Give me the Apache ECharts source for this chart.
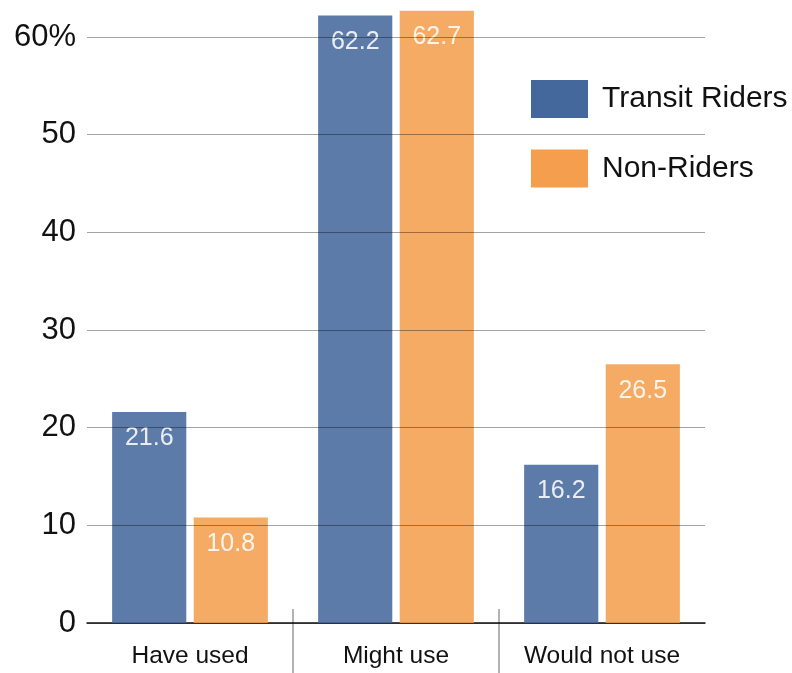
<!DOCTYPE html>
<html>
<head>
<meta charset="utf-8">
<script src="https://cdn.jsdelivr.net/npm/echarts@6/dist/echarts.min.js"></script>
<style>
  html, body { margin: 0; padding: 0; background: #fff; }
  #chart { width: 792px; height: 673px; }
</style>
</head>
<body>
<div id="chart"></div>
<script>
// Survey answers by group (percent of respondents)
const categories = ['Have used', 'Might use', 'Would not use'];
const transitRiders = [21.6, 62.2, 16.2];
const nonRiders = [10.8, 62.7, 26.5];
const seriesNames = ['Transit Riders', 'Non-Riders'];
const yTicks = [0, 10, 20, 30, 40, 50, 60];

const BLUE = '#44679c';
const ORANGE = '#f59f4e';
const FONT = '"Liberation Sans", Arial, sans-serif';

const chart = echarts.init(document.getElementById('chart'));

// separators between categories (positions in category units), not at the edges
const separatorAxis = (inside, length) => ({
  type: 'value',
  min: 0,
  max: categories.length,
  position: 'bottom',
  axisLine: { show: false },
  splitLine: { show: false },
  axisLabel: { show: false },
  axisTick: {
    show: true,
    inside: inside,
    length: length,
    customValues: categories.slice(1).map((_, i) => i + 1),
    lineStyle: { color: '#9a9a9a', width: 1.5 }
  }
});

const barLabel = {
  show: true,
  position: 'insideTop',
  distance: 14,
  color: '#ffffff',
  fontFamily: FONT,
  fontSize: 25,
  formatter: p => p.value.toFixed(1)
};

chart.setOption({
  animation: false,
  backgroundColor: '#ffffff',
  grid: { left: 87, right: 87, top: 37, bottom: 50, containLabel: false },
  legend: {
    orient: 'vertical',
    left: 531,
    top: 80,
    padding: 0,
    itemWidth: 57,
    itemHeight: 38,
    itemGap: 31.5,
    icon: 'rect',
    textStyle: { fontFamily: FONT, fontSize: 30, color: '#111', padding: [0, 0, 0, 9] },
    data: [
      { name: seriesNames[0], itemStyle: { color: BLUE, opacity: 1 } },
      { name: seriesNames[1], itemStyle: { color: ORANGE, opacity: 1 } }
    ]
  },
  xAxis: [
    {
      type: 'category',
      data: categories,
      axisLine: { show: true, lineStyle: { color: '#111', width: 1.5 } },
      axisTick: { show: false },
      axisLabel: {
        fontFamily: FONT,
        fontSize: 24.5,
        color: '#111',
        margin: 21
      },
      z: 1
    },
    separatorAxis(false, 50),
    separatorAxis(true, 14)
  ],
  yAxis: {
    type: 'value',
    min: 0,
    max: 60,
    interval: 10,
    z: 5,
    axisLine: { show: false },
    axisTick: { show: false },
    axisLabel: {
      fontFamily: FONT,
      fontSize: 31,
      color: '#111',
      margin: 11,
      formatter: v => (yTicks.includes(v) ? (v === 60 ? v + '%' : String(v)) : '')
    },
    splitLine: { lineStyle: { color: 'rgba(0,0,0,0.36)', width: 1 } }
  },
  series: [
    {
      name: seriesNames[0],
      type: 'bar',
      data: transitRiders,
      barWidth: '36%',
      barGap: '10%',
      clip: false,
      itemStyle: { color: BLUE, opacity: 0.87 },
      label: barLabel,
      z: 2
    },
    {
      name: seriesNames[1],
      type: 'bar',
      data: nonRiders,
      barWidth: '36%',
      barGap: '10%',
      clip: false,
      itemStyle: { color: ORANGE, opacity: 0.87 },
      label: barLabel,
      z: 2
    }
  ]
});
</script>
</body>
</html>
